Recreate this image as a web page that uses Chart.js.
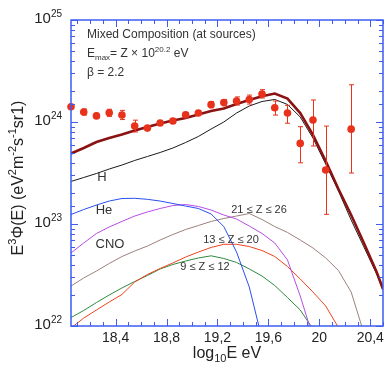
<!DOCTYPE html>
<html lang="en">
<head>
    <meta charset="UTF-8">
    <title>Mixed Composition spectrum</title>
    <style>
        html, body { margin: 0; padding: 0; background: #fff; }
        #wrap { width: 390px; height: 377px; }
    </style>
</head>
<body>
    <div id="wrap"><canvas id="spectrum" width="390" height="377"></canvas></div>

    <script src="https://cdn.jsdelivr.net/npm/chart.js"></script>
    <script>
        // measured points: log10 E and log10 of E^3 flux, errors in dex
        const dataLgE = [18.05, 18.15, 18.25, 18.35, 18.45, 18.55, 18.65, 18.75, 18.85, 18.95, 19.05,
                         19.15, 19.25, 19.35, 19.45, 19.55, 19.65, 19.75, 19.85, 19.95, 20.05, 20.25];
        const dataLgFlux = [24.15, 24.098, 24.06, 24.09, 24.069, 23.96, 23.94, 23.99, 24.01, 24.07, 24.088,
                            24.17, 24.19, 24.206, 24.22, 24.275, 24.14, 24.088, 23.79, 24.02, 23.53, 23.93];
        const dataErrUp = [0, 0.03, 0.025, 0.035, 0.045, 0.058, 0.02, 0.02, 0.02, 0.02, 0.02,
                           0.03, 0.03, 0.04, 0.044, 0.042, 0.066, 0.075, 0.164, 0.196, 0.43, 0.435];
        const dataErrDown = [0, 0.03, 0.025, 0.035, 0.045, 0.058, 0.02, 0.02, 0.02, 0.02, 0.02,
                             0.03, 0.03, 0.04, 0.044, 0.04, 0.072, 0.10, 0.19, 0.255, 0.435, 0.43];

        // model curves sampled on this energy grid (log10 values)
        const modelLgE = [18.05, 18.15, 18.25, 18.35, 18.45, 18.55, 18.65, 18.75, 18.85, 18.95, 19.05, 19.15, 19.25,
                          19.35, 19.45, 19.55, 19.65, 19.75, 19.85, 19.95, 20.05, 20.15, 20.25, 20.35, 20.45, 20.5];
        const lgTotal = [23.691, 23.745, 23.804, 23.843, 23.877, 23.917, 23.951, 23.985, 24.015, 24.039, 24.074, 24.108, 24.132,
                         24.176, 24.216, 24.252, 24.279, 24.230, 24.088, 23.873, 23.618, 23.343, 23.088, 22.814, 22.529, 22.363];
        const lgH = [23.417, 23.456, 23.495, 23.539, 23.578, 23.623, 23.662, 23.701, 23.745, 23.799, 23.858, 23.931, 24.0,
                     24.088, 24.157, 24.201, 24.221, 24.172, 24.049, 23.843, 23.588, 23.324, 23.039, 22.775, 22.510, 22.353];
        const lgHe = [23.093, 23.142, 23.186, 23.225, 23.250, 23.252, 23.242, 23.225, 23.201, 23.176, 23.152, 23.098, 22.975,
                      22.725, 22.382, 21.873];
        const lgCNO = [22.716, 22.814, 22.907, 22.971, 23.025, 23.078, 23.118, 23.152, 23.181, 23.191, 23.172, 23.137, 23.088,
                       23.049, 22.980, 22.907, 22.814, 22.647, 22.294, 21.892];
        const lgZ21to26 = [22.392, 22.471, 22.539, 22.613, 22.681, 22.735, 22.784, 22.843, 22.897, 22.946, 22.985, 23.025, 23.054,
                           23.078, 23.103, 23.044, 22.975, 22.917, 22.843, 22.765, 22.667, 22.544, 22.333, 21.931];
        const lgZ13to20 = [21.980, 22.078, 22.157, 22.235, 22.309, 22.431, 22.505, 22.564, 22.618, 22.676, 22.725, 22.770, 22.801,
                           22.801, 22.779, 22.740, 22.681, 22.583, 22.461, 22.333, 22.196, 21.985];
        const lgZ9to12 = [22.083, 22.152, 22.230, 22.304, 22.373, 22.436, 22.495, 22.559, 22.603, 22.637, 22.667, 22.688, 22.662,
                          22.623, 22.559, 22.490, 22.397, 22.279, 22.157, 21.971];

        const yTickExponents = [22, 23, 24, 25];

        const frameColor = '#3d5cf2';
        const pointColor = '#e8321c';
        const FONT = '"Liberation Sans", Arial, Helvetica, sans-serif';

        function curve(lgArr) {
            return lgArr.map((v, i) => ({ x: modelLgE[i], y: Math.pow(10, v) }));
        }

        function lineSet(label, lgArr, color, width) {
            return {
                label: label,
                data: curve(lgArr),
                showLine: true,
                borderColor: color,
                borderWidth: width,
                pointRadius: 0,
                tension: 0,
                fill: false
            };
        }

        // draws a text made of pieces, some raised or lowered; y is the baseline
        function drawRich(ctx, parts, x, y, size, align) {
            const fontOf = p => (p.s ? Math.round(size * 0.68) : size) + 'px ' + FONT;
            let w = 0;
            parts.forEach(p => { ctx.font = fontOf(p); w += ctx.measureText(p.t).width; });
            let cx = align === 'center' ? x - w / 2 : (align === 'right' ? x - w : x);
            ctx.textAlign = 'left';
            ctx.textBaseline = 'alphabetic';
            parts.forEach(p => {
                ctx.font = fontOf(p);
                const dy = p.s === 'sup' ? -size * 0.42 : (p.s === 'sub' ? size * 0.28 : 0);
                ctx.fillText(p.t, cx, y + dy);
                cx += ctx.measureText(p.t).width;
            });
        }

        const errorBars = {
            id: 'errorBars',
            afterDatasetsDraw(chart) {
                const ctx = chart.ctx, xs = chart.scales.x, ys = chart.scales.y;
                ctx.save();
                ctx.strokeStyle = pointColor;
                ctx.lineWidth = 1;
                dataLgE.forEach((e, i) => {
                    if (!dataErrUp[i] && !dataErrDown[i]) return;
                    const px = Math.round(xs.getPixelForValue(e)) + 0.5;
                    const yHi = ys.getPixelForValue(Math.pow(10, dataLgFlux[i] + dataErrUp[i]));
                    const yLo = ys.getPixelForValue(Math.pow(10, dataLgFlux[i] - dataErrDown[i]));
                    ctx.beginPath();
                    ctx.moveTo(px, yHi); ctx.lineTo(px, yLo);
                    ctx.moveTo(px - 2.5, yHi); ctx.lineTo(px + 2.5, yHi);
                    ctx.moveTo(px - 2.5, yLo); ctx.lineTo(px + 2.5, yLo);
                    ctx.stroke();
                });
                ctx.restore();
            }
        };

        const frameAndText = {
            id: 'frameAndText',
            afterDraw(chart) {
                const ctx = chart.ctx, xs = chart.scales.x, ys = chart.scales.y;
                const { left, right, top, bottom } = chart.chartArea;
                ctx.save();

                // inward ticks on all four sides
                ctx.strokeStyle = frameColor;
                ctx.lineWidth = 1;
                ctx.beginPath();
                xs.ticks.forEach(t => {
                    const px = Math.round(xs.getPixelForValue(t.value)) + 0.5;
                    const len = Math.round(t.value * 10) % 4 === 0 ? 7 : 4;
                    ctx.moveTo(px, bottom); ctx.lineTo(px, bottom - len);
                    ctx.moveTo(px, top); ctx.lineTo(px, top + len);
                });
                ys.ticks.forEach(t => {
                    const py = Math.round(ys.getPixelForValue(t.value)) + 0.5;
                    const exp = Math.floor(Math.log10(t.value) + 1e-9);
                    const major = Math.abs(t.value / Math.pow(10, exp) - 1) < 1e-6;
                    const len = major ? 7 : 4;
                    ctx.moveTo(left, py); ctx.lineTo(left + len, py);
                    ctx.moveTo(right, py); ctx.lineTo(right - len, py);
                });
                ctx.stroke();
                ctx.lineWidth = 1.5;
                ctx.strokeRect(left, top, right - left, bottom - top);

                // y tick labels 10^n
                ctx.fillStyle = '#222';
                yTickExponents.forEach(n => {
                    const py = ys.getPixelForValue(Math.pow(10, n));
                    drawRich(ctx, [{ t: '10' }, { t: String(n), s: 'sup' }], 62, py + 3, 15, 'right');
                });

                // axis titles
                drawRich(ctx, [{ t: 'log' }, { t: '10', s: 'sub' }, { t: 'E eV' }], (left + right) / 2, 358, 16, 'center');
                ctx.save();
                ctx.translate(23, 178);
                ctx.rotate(-Math.PI / 2);
                drawRich(ctx, [
                    { t: 'E' }, { t: '3', s: 'sup' }, { t: '\u03A6(E) (eV' }, { t: '2', s: 'sup' },
                    { t: 'm' }, { t: '-2', s: 'sup' }, { t: 's' }, { t: '-1', s: 'sup' }, { t: 'sr1)' }
                ], 0, 0, 16, 'center');
                ctx.restore();

                // box text
                ctx.fillStyle = '#333';
                drawRich(ctx, [{ t: 'Mixed Composition (at sources)' }], 87, 38, 12, 'left');
                drawRich(ctx, [{ t: 'E' }, { t: 'max', s: 'sub' }, { t: '= Z \u00D7 10' }, { t: '20.2', s: 'sup' }, { t: ' eV' }], 87, 57, 12, 'left');
                drawRich(ctx, [{ t: '\u03B2 = 2.2' }], 87, 76, 12, 'left');

                // curve labels
                drawRich(ctx, [{ t: 'H' }], 102, 181, 13, 'center');
                drawRich(ctx, [{ t: 'He' }], 104, 214, 13, 'center');
                drawRich(ctx, [{ t: 'CNO' }], 110, 248, 13, 'center');
                drawRich(ctx, [{ t: '21 \u2264 Z \u2264 26' }], 259, 213, 11, 'center');
                drawRich(ctx, [{ t: '13 \u2264 Z \u2264 20' }], 231, 243, 11, 'center');
                drawRich(ctx, [{ t: '9 \u2264 Z \u2264 12' }], 205, 270, 11, 'center');

                ctx.restore();
            }
        };

        Chart.defaults.font.family = FONT;

        const ctx = document.getElementById('spectrum').getContext('2d');
        const chart = new Chart(ctx, {
            type: 'scatter',
            data: {
                datasets: [
                    {
                        label: 'data',
                        data: dataLgE.map((e, i) => ({ x: e, y: Math.pow(10, dataLgFlux[i]) })),
                        pointRadius: 3.8,
                        pointBackgroundColor: pointColor,
                        pointBorderColor: pointColor,
                        pointBorderWidth: 0,
                        clip: false,
                        order: 0
                    },
                    lineSet('total', lgTotal, '#8a1212', 2.6),
                    lineSet('H', lgH, '#1a1a1a', 1),
                    lineSet('He', lgHe, '#2a4ef0', 1),
                    lineSet('CNO', lgCNO, '#b84de6', 1),
                    lineSet('21-26', lgZ21to26, '#9c807c', 1),
                    lineSet('13-20', lgZ13to20, '#f0441e', 1),
                    lineSet('9-12', lgZ9to12, '#2f8a3f', 1)
                ]
            },
            options: {
                responsive: false,
                animation: false,
                devicePixelRatio: 1,
                layout: { padding: { left: 0, right: 7, top: 20, bottom: 0 } },
                plugins: {
                    legend: { display: false },
                    tooltip: { enabled: false }
                },
                scales: {
                    x: {
                        type: 'linear',
                        min: 18.05,
                        max: 20.5,
                        grid: { display: false, drawTicks: false },
                        border: { display: false },
                        ticks: {
                            stepSize: 0.1,
                            includeBounds: false,
                            autoSkip: false,
                            maxRotation: 0,
                            padding: 4,
                            color: '#222',
                            font: { size: 14 },
                            callback: v => Math.round(v * 10) % 4 === 0 ? String(Math.round(v * 10) / 10).replace('.', ',') : ''
                        },
                        afterFit: s => { s.height = 51; }
                    },
                    y: {
                        type: 'logarithmic',
                        min: 1e22,
                        max: 1e25,
                        grid: { display: false, drawTicks: false },
                        border: { display: false },
                        ticks: { display: false },
                        afterFit: s => { s.width = 71; }
                    }
                }
            },
            plugins: [errorBars, frameAndText]
        });
    </script>
</body>
</html>
